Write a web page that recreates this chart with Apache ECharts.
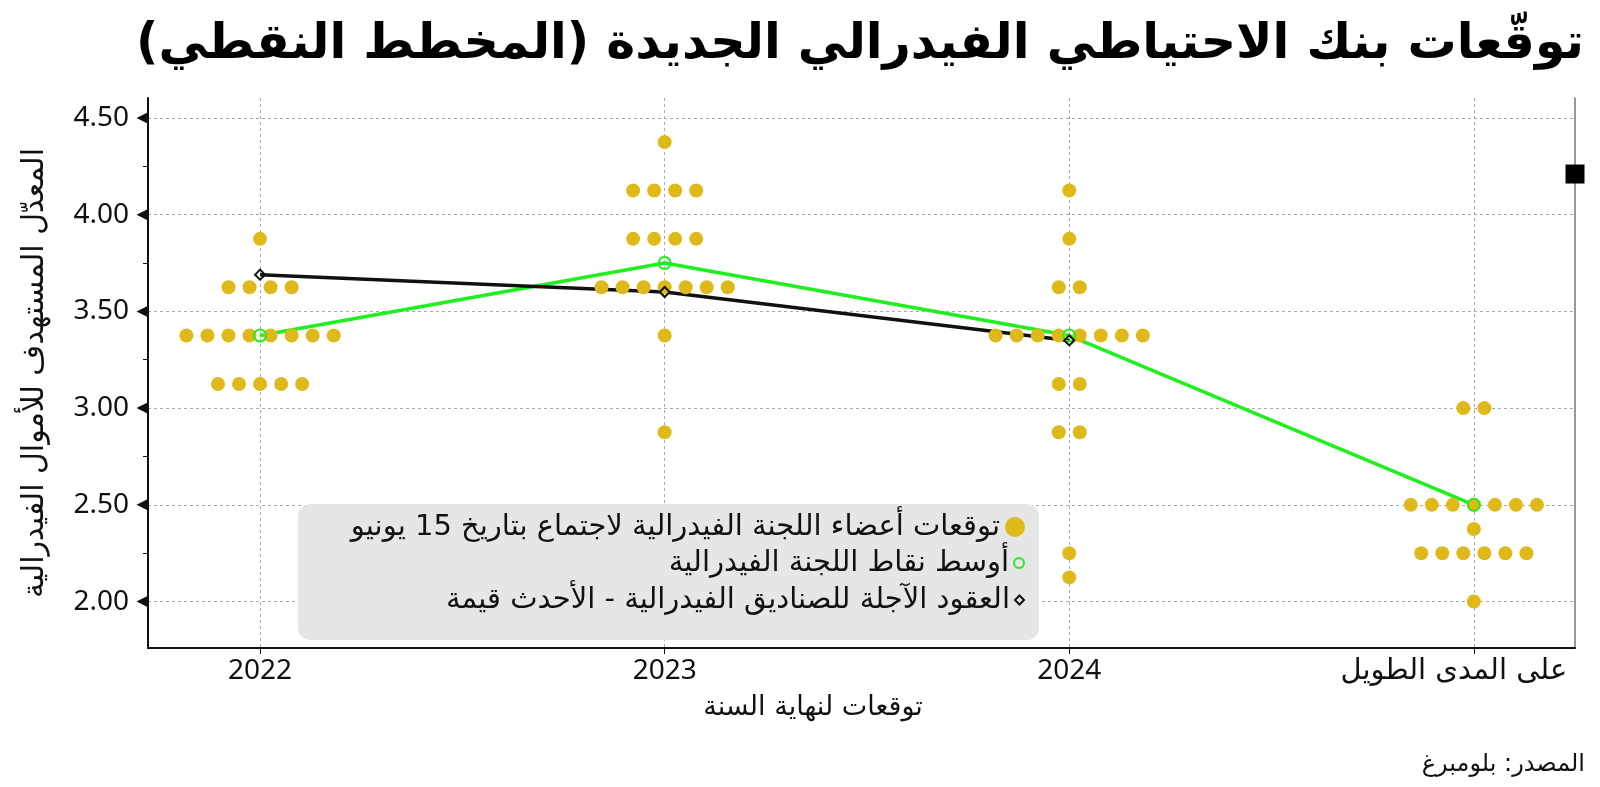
<!DOCTYPE html>
<html lang="ar">
<head>
<meta charset="UTF-8">
<title>توقعات الاحتياطي الفيدرالي</title>
<script src="https://cdn.jsdelivr.net/npm/echarts@6/dist/echarts.min.js"></script>
<style>
  html, body { margin: 0; padding: 0; background: #fff; }
  #main { width: 1600px; height: 787px; }
</style>
</head>
<body>
<div id="main"></div>
<script>
// الفئات وقيم المحور
var categories = ['2022', '2023', '2024', 'على المدى الطويل'];
var yTicks = [2.0, 2.5, 3.0, 3.5, 4.0, 4.5];
var yMinorTicks = [2.25, 2.75, 3.25, 3.75, 4.25];

// نقاط الأعضاء: [المعدل, عدد النقاط]
var dots2022 = [[3.875, 1], [3.625, 4], [3.375, 8], [3.125, 5]];
var dots2023 = [[4.375, 1], [4.125, 4], [3.875, 4], [3.625, 7], [3.375, 1], [2.875, 1]];
var dots2024 = [[4.125, 1], [3.875, 1], [3.625, 2], [3.375, 8], [3.125, 2], [2.875, 2], [2.25, 1], [2.125, 1]];
var dotsLongRun = [[3.0, 2], [2.5, 7], [2.375, 1], [2.25, 6], [2.0, 1]];

// الوسيط والعقود الآجلة
var medians = [3.375, 3.75, 3.375, 2.5];
var futures = [3.69, 3.6, 3.35];
var lastMarker = [4.21];

var nameDots = 'توقعات أعضاء اللجنة الفيدرالية لاجتماع بتاريخ 15 يونيو';
var nameMedian = 'أوسط نقاط اللجنة الفيدرالية';
var nameFutures = 'العقود الآجلة للصناديق الفيدرالية - الأحدث قيمة';

var xMin = -0.277, xMax = 3.25;
var yMin = 1.76, yMax = 4.603;
var dotStep = 0.052;   // المسافة الأفقية بين النقاط
var RLM = '\u200F';
var arFont = "'DejaVu Sans'";
var numFont = "'Noto Sans', 'DejaVu Sans'";

var myChart = echarts.init(document.getElementById('main'));

// توزيع النقاط حول مركز كل سنة
var dotData = [];
[dots2022, dots2023, dots2024, dotsLongRun].forEach(function (rows, ci) {
    rows.forEach(function (r) {
        for (var k = 0; k < r[1]; k++) {
            dotData.push([ci + (k - (r[1] - 1) / 2) * dotStep, r[0]]);
        }
    });
});
var medianData = medians.map(function (v, i) { return [i, v]; });
var futuresData = futures.map(function (v, i) { return [i, v]; });

var green = '#1fee1f';
var yellow = '#dfb91a';

var legendNames = [nameDots, nameMedian, nameFutures];
var legendSizes = [20, 10, 9];
var legendCenters = [527, 563, 600];

var option = {
    animation: false,
    backgroundColor: '#fff',
    title: {
        text: RLM + 'توقّعات بنك الاحتياطي الفيدرالي الجديدة (المخطط النقطي)' + RLM,
        right: 11,
        top: 16,
        textStyle: { fontFamily: arFont, fontWeight: 'bold', fontSize: 49, color: '#000' }
    },
    grid: { left: 148, right: 25, top: 98, bottom: 139 },
    legend: legendNames.map(function (n, i) {
        return {
            data: [{ name: n, icon: i === 2 ? 'diamond' : 'circle' }],
            right: 575,
            top: legendCenters[i] - 17,
            align: 'right',
            padding: 0,
            itemWidth: legendSizes[i],
            itemHeight: legendSizes[i],
            selectedMode: false,
            textStyle: { fontFamily: arFont, fontSize: 29, color: '#111', lineHeight: 34 }
        };
    }),
    graphic: [{
        type: 'rect', left: 298, top: 504, z: 1,
        shape: { width: 741, height: 136, r: 12 },
        style: { fill: '#e6e6e6' }
    }, {
        type: 'text', x: 813, y: 694, z: 5,
        style: { text: 'توقعات لنهاية السنة', font: '27px ' + arFont, fill: '#111', textAlign: 'center' }
    }, {
        type: 'text', right: 15, top: 753, z: 5,
        style: { text: 'المصدر: بلومبرغ', font: '24px ' + arFont, fill: '#111' }
    }],
    xAxis: {
        type: 'value', min: xMin, max: xMax,
        axisLine: { onZero: false, lineStyle: { color: '#111', width: 2 } },
        axisTick: { customValues: [0, 1, 2, 3], length: 6, lineStyle: { color: '#111' } },
        axisLabel: {
            customValues: [0, 1, 2, 3], margin: 9,
            formatter: function (v) {
                var i = Math.round(v);
                return i === 3 ? '{ar|' + categories[i] + '}' : categories[i];
            },
            fontFamily: numFont, fontSize: 28, color: '#111',
            rich: { ar: { fontFamily: arFont, fontSize: 29, color: '#111', padding: [0, 40, 0, 0] } }
        },
        splitLine: { show: true, lineStyle: { color: '#aaa', type: [3, 3] } }
    },
    yAxis: [{
        type: 'value', min: yMin, max: yMax,
        name: 'المعدّل المستهدف للأموال الفيدرالية',
        nameLocation: 'middle', nameRotate: 90, nameGap: 98,
        nameTextStyle: { fontFamily: arFont, fontSize: 30, color: '#111' },
        axisLine: { show: true, onZero: false, lineStyle: { color: '#111', width: 2 } },
        axisTick: { show: false, customValues: yTicks },
        axisLabel: {
            customValues: yTicks, margin: 19,
            formatter: function (v) { return v.toFixed(2); },
            fontFamily: numFont, fontSize: 28, color: '#111'
        },
        splitLine: { show: true, lineStyle: { color: '#aaa', type: [3, 3] } }
    }, {
        type: 'value', min: yMin, max: yMax, position: 'left',
        axisLine: { show: false, onZero: false },
        axisTick: { show: true, customValues: yMinorTicks, length: 5, lineStyle: { color: '#111' } },
        axisLabel: { show: false },
        splitLine: { show: false }
    }, {
        type: 'value', min: yMin, max: yMax, position: 'right',
        axisLine: { show: true, onZero: false, lineStyle: { color: '#777', width: 1.5 } },
        axisTick: { show: false },
        axisLabel: { show: false },
        splitLine: { show: false }
    }],
    series: [{
        name: 'median-line', type: 'line', data: medianData, showSymbol: false, z: 1,
        lineStyle: { color: green, width: 3.5 }, silent: true
    }, {
        name: 'futures-line', type: 'line', data: futuresData, showSymbol: false, z: 1,
        lineStyle: { color: '#111', width: 3.5 }, silent: true
    }, {
        name: nameDots, type: 'scatter', data: dotData, symbol: 'circle', symbolSize: 14, z: 2,
        itemStyle: { color: yellow, opacity: 1 }
    }, {
        name: nameMedian, type: 'scatter', data: medianData, symbol: 'circle', symbolSize: 12, z: 4,
        itemStyle: { color: 'rgba(0,0,0,0)', borderColor: green, borderWidth: 2, opacity: 1 }
    }, {
        name: nameFutures, type: 'scatter', data: futuresData, symbol: 'diamond', symbolSize: 10, z: 4,
        itemStyle: { color: 'rgba(0,0,0,0)', borderColor: '#111', borderWidth: 2, opacity: 1 }
    }, {
        name: 'y-ticks', type: 'scatter', clip: false, silent: true, z: 5,
        data: yTicks.map(function (v) { return [xMin, v]; }),
        symbol: 'triangle', symbolSize: [11, 11], symbolRotate: 90, symbolOffset: [-6, 0],
        itemStyle: { color: '#111', opacity: 1 }
    }, {
        name: 'latest', type: 'scatter', clip: false, silent: true, z: 5,
        data: lastMarker.map(function (v) { return [xMax, v]; }),
        symbol: 'rect', symbolSize: 19,
        itemStyle: { color: '#000', opacity: 1 }
    }]
};

myChart.setOption(option);
</script>
</body>
</html>
